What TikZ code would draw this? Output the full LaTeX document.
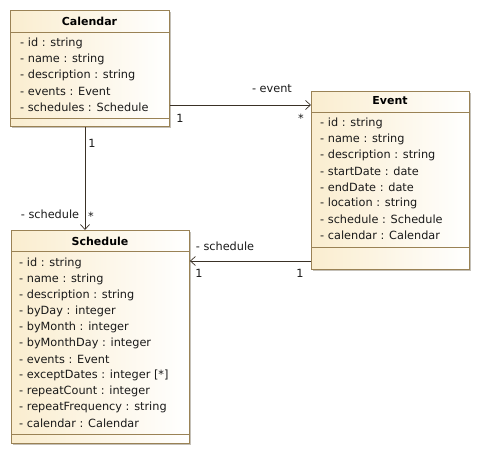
\documentclass[tikz,border=0pt]{standalone}
\usepackage{fontspec}
\setmainfont{DejaVu Sans}
\usetikzlibrary{arrows.meta}
\definecolor{classborder}{HTML}{9A8255}
\definecolor{classfill}{HTML}{FAEDCF}
\definecolor{shadowc}{HTML}{C4C0B8}
\definecolor{linec}{HTML}{3A3126}
\tikzset{
  x=1pt,y=1pt,
  classbox/.style={draw=classborder, line width=0.9pt, left color=classfill, right color=white, rectangle, inner sep=0pt, anchor=north west},
  shadowbox/.style={fill=shadowc, rectangle, inner sep=0pt, anchor=north west, draw=none},
  sep/.style={draw=classborder, line width=0.9pt},
  ctitle/.style={font=\fontsize{11}{12}\selectfont\bfseries, inner sep=0pt, anchor=center},
  attr/.style={font=\fontsize{11.3}{12}\selectfont, inner sep=0pt, anchor=west, text=black!90},
  lbl/.style={font=\fontsize{11.3}{12}\selectfont, inner sep=0pt, text=black!90},
  assoc/.style={draw=linec, line width=0.8pt, -{Straight Barb[length=5pt,width=9pt,line width=0.7pt]}},
}
\begin{document}
\begin{tikzpicture}
\useasboundingbox (0,0) rectangle (481,-455);
% shadows
\node[shadowbox, minimum width=159, minimum height=116] at (12,-12) {};
\node[shadowbox, minimum width=158, minimum height=178] at (313,-93) {};
\node[shadowbox, minimum width=178, minimum height=213] at (13,-232) {};
% Calendar
\node[classbox, minimum width=159, minimum height=116] (cal) at (10,-10) {};
\draw[sep] (10,-32) -- (169,-32);
\draw[sep] (10,-118) -- (169,-118);
\node[ctitle] (calt) at (89.5,-21) {Calendar};
\node[attr] (ca1) at (20,-43) {- id : string};
\node[attr] (ca2) at (20,-59) {- name : string};
\node[attr] (ca3) at (20,-75) {- description : string};
\node[attr] (ca4) at (20,-91) {- events : Event};
\node[attr] (ca5) at (20,-107) {- schedules : Schedule};
% Event
\node[classbox, minimum width=158, minimum height=178] (ev) at (311,-91) {};
\draw[sep] (311,-112) -- (469,-112);
\draw[sep] (311,-247) -- (469,-247);
\node[ctitle] (evt) at (390,-101) {Event};
\node[attr] (ea1) at (320,-123) {- id : string};
\node[attr] (ea2) at (320,-139) {- name : string};
\node[attr] (ea3) at (320,-155) {- description : string};
\node[attr] (ea4) at (320,-171) {- startDate : date};
\node[attr] (ea5) at (320,-187) {- endDate : date};
\node[attr] (ea6) at (320,-203) {- location : string};
\node[attr] (ea7) at (320,-219) {- schedule : Schedule};
\node[attr] (ea8) at (320,-235) {- calendar : Calendar};
% Schedule
\node[classbox, minimum width=178, minimum height=213] (sch) at (11,-230) {};
\draw[sep] (11,-251) -- (189,-251);
\draw[sep] (11,-434) -- (189,-434);
\node[ctitle] (scht) at (100,-241) {Schedule};
\node[attr] (sa1) at (19,-263) {- id : string};
\node[attr] (sa2) at (19,-279) {- name : string};
\node[attr] (sa3) at (19,-295) {- description : string};
\node[attr] (sa4) at (19,-311) {- byDay : integer};
\node[attr] (sa5) at (19,-327) {- byMonth : integer};
\node[attr] (sa6) at (19,-343) {- byMonthDay : integer};
\node[attr] (sa7) at (19,-359) {- events : Event};
\node[attr] (sa8) at (19,-375) {- exceptDates : integer [*]};
\node[attr] (sa9) at (19,-391) {- repeatCount : integer};
\node[attr] (sa10) at (19,-407) {- repeatFrequency : string};
\node[attr] (sa11) at (19,-423) {- calendar : Calendar};
% connectors
\draw[assoc] (cal.east |- 0,-105) -- (ev.west |- 0,-105);
\draw[assoc] (cal.south -| 85,0) -- (sch.north -| 85,0);
\draw[assoc] (ev.west |- 0,-261) -- (sch.east |- 0,-261);
% labels
\node[lbl] (l1) at (272,-89) {- event};
\node[lbl] (l2) at (180,-118) {1};
\node[lbl] (l3) at (301,-118) {*};
\node[lbl] (l4) at (92,-143) {1};
\node[lbl] (l5) at (50,-214) {- schedule};
\node[lbl] (l6) at (91,-216) {*};
\node[lbl] (l7) at (225,-246) {- schedule};
\node[lbl] (l8) at (199,-273) {1};
\node[lbl] (l9) at (300,-273) {1};
\end{tikzpicture}
\end{document}
